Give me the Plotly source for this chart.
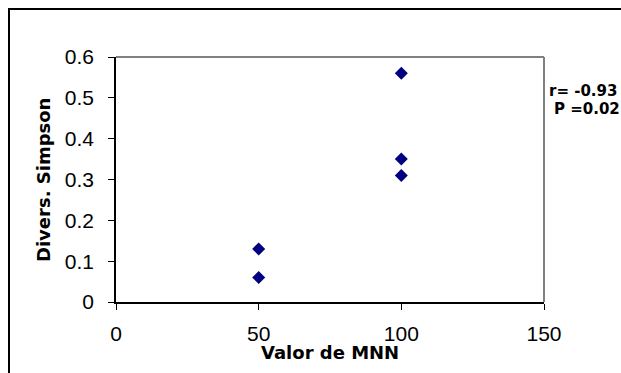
import plotly.graph_objects as go

# MNN value vs. Simpson diversity
mnn_values = [50, 50, 100, 100, 100]
simpson_div = [0.13, 0.06, 0.56, 0.35, 0.31]

x_ticks = [0, 50, 100, 150]
y_ticks = [0, 0.1, 0.2, 0.3, 0.4, 0.5, 0.6]
y_tick_text = ["0", "0.1", "0.2", "0.3", "0.4", "0.5", "0.6"]

stats_lines = ["r= -0.93", "P =0.02"]

W, H = 621, 373
L, R, T, B = 116, 77, 57, 71
pw, ph = W - L - R, H - T - B


def px_x(p):
    return (p - L) / pw


def px_y(p):
    return (H - B - p) / ph


FONT = "DejaVu Sans, Liberation Sans, Arial, sans-serif"
TICK_FONT = "Liberation Sans, Arial, sans-serif"

fig = go.Figure(
    go.Scatter(
        x=mnn_values,
        y=simpson_div,
        mode="markers",
        marker=dict(symbol="diamond", size=10, color="#000080", line=dict(width=0)),
        showlegend=False,
        cliponaxis=False,
    )
)

axis_common = dict(
    showgrid=False,
    zeroline=False,
    showline=True,
    linecolor="black",
    linewidth=1.5,
    ticks="outside",
    ticklen=6,
    tickwidth=1,
    tickcolor="black",
    tickfont=dict(family=TICK_FONT, size=21, color="black"),
    mirror=False,
)

fig.update_xaxes(range=[0, 150], tickvals=x_ticks, ticktext=[str(v) for v in x_ticks],
                 ticklabelstandoff=6, **axis_common)
fig.update_yaxes(range=[0, 0.6], tickvals=y_ticks, ticktext=y_tick_text,
                 ticklabelstandoff=10, **axis_common)

shapes = [
    # outer chart frame
    dict(type="rect", xref="paper", yref="paper",
         x0=px_x(9), x1=px_x(660), y0=px_y(400), y1=px_y(9),
         line=dict(color="black", width=2), fillcolor="rgba(0,0,0,0)", layer="below"),
    # plot area border (top and right)
    dict(type="line", xref="paper", yref="paper", x0=0, x1=1, y0=1, y1=1,
         line=dict(color="#808080", width=2), layer="below"),
    dict(type="line", xref="paper", yref="paper", x0=1, x1=1, y0=0, y1=1,
         line=dict(color="#808080", width=2), layer="below"),
]

annotations = [
    dict(text="<b>Valor de MNN</b>", xref="paper", yref="paper",
         x=px_x(330), y=px_y(352), xanchor="center", yanchor="middle",
         showarrow=False, font=dict(family=FONT, size=18, color="black")),
    dict(text="<b>Divers. Simpson</b>", xref="paper", yref="paper",
         x=px_x(43), y=px_y(180), xanchor="center", yanchor="middle", textangle=-90,
         showarrow=False, font=dict(family=FONT, size=18, color="black")),
    dict(text="<b>" + stats_lines[0] + "</b>", xref="paper", yref="paper",
         x=px_x(547), y=px_y(91), xanchor="left", yanchor="middle",
         showarrow=False, font=dict(family=FONT, size=15, color="black")),
    dict(text="<b>" + stats_lines[1] + "</b>", xref="paper", yref="paper",
         x=px_x(552), y=px_y(109), xanchor="left", yanchor="middle",
         showarrow=False, font=dict(family=FONT, size=15, color="black")),
]

fig.update_layout(
    width=W,
    height=H,
    margin=dict(l=L, r=R, t=T, b=B, pad=0),
    paper_bgcolor="white",
    plot_bgcolor="white",
    shapes=shapes,
    annotations=annotations,
)

fig.write_html("out.html")
